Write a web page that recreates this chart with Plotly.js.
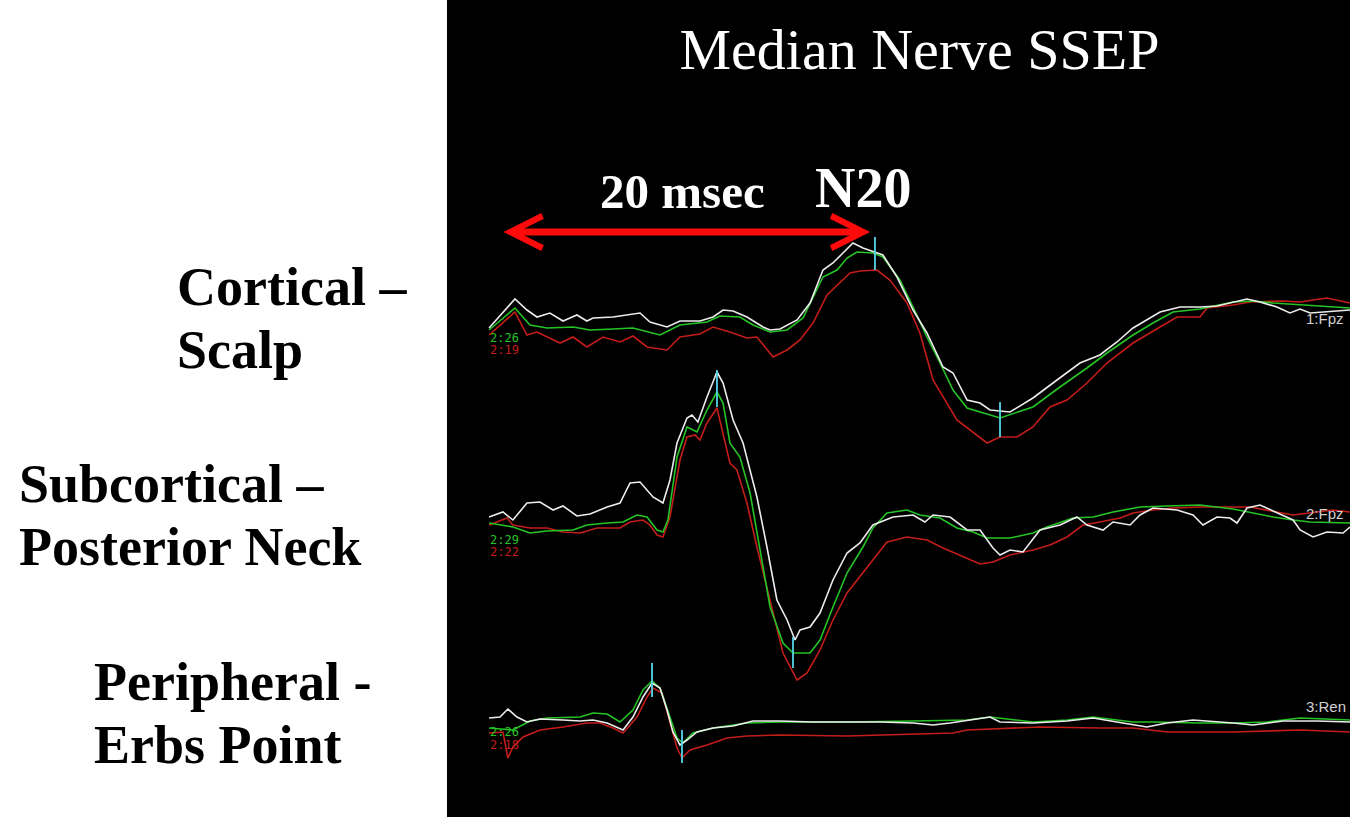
<!DOCTYPE html>
<html>
<head>
<meta charset="utf-8">
<script src="https://cdn.plot.ly/plotly-3.0.1.min.js"></script>
<style>html,body{margin:0;padding:0;background:#fff;}#chart{width:1350px;height:817px;}</style>
</head>
<body>
<div id="chart"></div>
<script>
// ---- Cortical (scalp) channel: latency (ms) and amplitude (arb. units) ----
const cortWhiteT = [-0.70,0.70,1.35,1.89,2.59,3.30,4.05,4.59,4.92,6.00,7.46,8.00,8.92,9.62,10.70,11.41,11.95,12.49,13.24,14.11,14.49,15.03,15.95,16.65,17.35,17.89,18.43,18.97,19.51,20.16,20.59,21.35,22.22,22.97,23.84,24.38,25.14,25.84,26.38,27.46,28.70,30.00,31.24,32.32,33.24,34.11,35.57,36.65,37.73,38.65,39.51,40.27,40.97,41.89,42.59,43.14,43.68,45.84];
const cortWhiteV = [0.2,3.1,2.0,1.3,1.7,0.9,1.5,0.9,1.2,1.3,1.7,0.8,0.3,0.9,0.9,1.3,2.0,1.9,1.3,0.3,0.0,0.1,1.0,2.7,6.0,6.7,7.7,8.7,8.2,7.8,7.5,5.3,2.0,-0.3,-3.7,-4.3,-7.0,-7.3,-8.0,-8.2,-6.8,-5.0,-3.3,-2.5,-1.2,0.2,1.8,2.3,2.3,2.4,2.8,3.1,2.8,2.3,1.7,2.1,1.7,2.0];
const cortGreenT = [-0.70,0.70,1.51,2.43,3.84,4.76,6.00,7.08,8.54,9.62,11.08,11.78,12.86,13.57,14.49,15.41,16.27,16.81,17.35,18.11,18.65,19.19,20.05,20.59,21.51,22.22,22.97,23.68,24.38,25.14,26.92,28.70,30.16,31.62,32.70,34.11,35.19,36.27,37.73,39.51,40.59,41.68,43.14,45.84];
const cortGreenV = [0.0,2.2,0.5,0.2,0.3,0.0,0.1,0.2,-0.5,0.5,0.8,1.4,1.3,0.5,-0.2,0.0,1.2,3.3,5.3,6.0,7.2,7.8,7.7,7.3,5.0,2.3,-0.7,-3.3,-6.0,-7.8,-8.8,-7.7,-5.7,-3.8,-2.3,-0.5,0.7,1.8,2.1,2.8,2.9,2.7,2.5,2.2];
const cortRedT = [-0.70,0.70,1.35,1.89,3.14,3.84,4.59,5.46,6.38,7.08,7.84,8.92,9.62,10.70,11.41,12.32,13.24,13.78,14.65,15.41,16.11,16.81,17.57,18.27,18.81,19.35,20.27,20.97,21.89,22.59,23.30,24.59,25.30,26.22,26.92,27.84,28.70,29.62,30.54,31.62,32.70,34.11,35.57,36.49,37.73,38.11,39.51,40.43,42.22,43.14,44.59,45.84];
const cortRedV = [-0.5,1.8,-0.5,-0.2,-1.3,-0.7,-1.7,-0.7,-1.2,-0.6,-1.7,-2.0,-0.7,-0.4,0.3,-0.2,-0.8,-0.7,-2.7,-2.0,-1.0,0.7,3.5,4.7,5.7,5.9,6.0,5.0,2.7,-0.3,-5.0,-9.0,-10.0,-11.3,-10.7,-10.7,-9.7,-7.7,-7.0,-5.3,-3.3,-1.3,0.3,1.3,1.3,2.2,2.5,2.8,2.9,2.8,3.2,2.7];

// ---- Subcortical (posterior neck) channel ----
const subWhiteT = [-0.70,0.05,0.59,1.35,2.05,2.76,3.30,4.05,4.76,5.68,6.38,6.92,7.46,8.16,8.70,9.08,9.46,10.00,10.27,10.59,11.08,11.62,11.95,12.49,13.03,13.78,14.32,14.86,15.41,15.84,16.11,16.65,17.19,17.89,18.65,19.35,20.05,21.14,22.22,22.86,23.30,24.22,25.14,25.84,26.54,26.92,27.46,28.16,29.08,30.16,31.08,31.62,32.49,33.03,33.95,34.49,35.19,36.49,37.35,37.89,38.65,39.35,39.73,40.27,40.97,41.89,42.76,43.14,43.84,44.59,45.46,45.84];
const subWhiteV = [0.3,0.8,0.0,1.7,1.8,1.0,1.4,0.4,0.6,1.3,1.7,3.7,3.8,2.3,1.7,4.0,7.7,10.2,10.5,9.8,12.3,14.8,13.7,10.0,7.7,2.3,-2.7,-8.0,-10.0,-12.0,-11.0,-10.7,-9.3,-6.0,-3.3,-2.3,-0.5,0.3,0.5,-0.2,0.5,0.3,-1.0,-1.0,-2.8,-3.5,-3.0,-3.2,-1.0,-0.5,0.3,-0.5,-1.0,-0.2,-0.5,0.5,1.2,1.0,0.5,-0.5,0.3,0.2,-0.3,1.2,1.5,0.7,0.0,-1.0,-1.7,-1.2,-1.3,-0.7];
const subGreenT = [-0.70,0.59,1.51,2.43,3.84,4.59,5.68,6.54,7.30,7.84,8.38,8.70,8.97,9.46,10.00,10.54,11.08,11.62,11.95,12.32,12.86,13.41,14.11,14.49,15.19,15.73,16.65,17.19,17.89,18.65,19.51,20.05,20.81,21.89,22.59,23.68,24.59,25.46,26.22,27.46,28.70,29.46,30.86,31.95,33.03,34.49,35.95,37.73,39.51,40.59,41.68,42.76,43.68,45.84];
const subGreenV = [-0.3,-0.7,-1.3,-1.1,-1.0,-0.5,-0.3,-0.2,0.5,0.3,-1.0,-1.2,0.0,6.3,9.3,8.8,11.0,12.8,11.7,7.7,6.3,2.7,-4.7,-8.7,-12.3,-13.3,-13.3,-12.0,-8.7,-5.3,-2.7,-0.8,0.7,1.0,0.5,0.2,-0.8,-1.2,-1.8,-1.8,-1.3,-0.7,0.2,0.3,0.8,1.3,1.4,1.5,1.1,0.7,0.3,0.0,-0.2,-0.3];
const subRedT = [-0.70,0.27,0.59,1.51,2.43,3.30,4.22,5.14,6.38,6.92,7.62,8.00,8.38,8.70,9.08,9.62,10.00,10.43,10.70,11.08,11.62,11.95,12.32,12.70,13.24,13.78,14.32,14.65,15.19,15.95,16.49,17.19,17.89,18.65,19.73,20.43,20.81,21.89,22.97,23.84,24.76,25.84,26.54,27.46,28.70,29.62,30.54,31.41,32.32,33.41,34.11,35.19,36.27,37.73,40.43,41.35,42.76,44.05,44.92,45.84];
const subRedV = [-0.5,0.2,-0.5,-0.8,-0.8,-1.2,-1.3,-0.8,-0.8,-0.2,0.0,-0.5,-1.5,-1.7,0.3,6.0,8.3,8.5,8.0,9.7,11.2,8.7,5.7,5.0,1.7,-2.7,-6.7,-9.3,-13.3,-16.0,-15.3,-13.0,-10.0,-7.3,-4.7,-3.0,-2.2,-1.7,-2.0,-2.8,-3.5,-4.4,-4.2,-3.5,-3.0,-2.5,-1.7,-0.5,-0.2,0.2,0.7,1.0,1.2,1.3,1.3,1.0,0.5,0.8,1.0,0.8];

// ---- Peripheral (Erb's point) channel ----
const perWhiteT = [-0.70,-0.11,0.32,0.81,1.35,2.05,3.30,4.22,4.92,5.68,6.54,7.08,7.62,8.11,8.54,8.92,9.24,9.62,10.00,10.54,11.41,12.49,13.57,15.03,16.81,18.65,20.43,22.22,23.30,24.22,26.38,26.92,28.70,30.54,31.95,33.24,34.86,35.95,37.35,39.51,40.59,42.22,44.05,45.84];
const perWhiteV = [0.4,0.5,1.3,0.5,0.0,0.3,0.2,0.1,0.2,-0.1,-0.8,0.5,2.5,3.9,3.4,1.2,-1.0,-2.3,-1.8,-1.0,-0.6,-0.4,0.1,0.1,0.0,0.0,0.0,-0.1,-0.3,-0.1,0.5,0.0,-0.1,0.1,0.4,0.0,-0.5,-0.1,0.2,-0.1,-0.3,0.1,0.1,0.0];
const perGreenT = [-0.70,0.59,1.51,2.43,4.22,4.92,5.68,6.38,7.08,7.62,8.11,8.54,9.08,9.46,9.78,10.32,11.41,13.24,15.03,18.65,22.22,25.14,26.38,28.70,30.54,31.95,34.11,35.19,37.73,39.51,41.35,43.14,45.84];
const perGreenV = [-0.6,-0.8,0.1,0.4,0.5,0.9,0.8,0.0,1.2,3.2,4.1,3.4,0.5,-1.6,-2.1,-1.1,-0.6,-0.1,0.0,0.0,0.1,0.2,0.5,0.0,0.2,0.5,0.0,0.0,-0.1,-0.1,0.0,0.4,0.2];
const perRedT = [-0.70,0.05,0.32,0.59,1.14,2.05,3.30,4.59,5.30,6.00,6.54,7.30,7.84,8.16,8.65,9.08,9.46,9.73,10.16,11.08,12.16,13.24,15.03,18.65,22.22,24.38,25.14,29.08,32.32,34.11,35.95,39.51,43.14,45.84];
const perRedV = [-1.1,-1.0,-3.6,-2.5,-1.5,-0.8,-0.5,-0.1,-0.1,-0.6,-1.1,0.5,2.5,3.4,2.9,-0.1,-2.6,-3.6,-2.8,-2.3,-1.6,-1.4,-1.3,-1.4,-1.2,-1.1,-0.8,-0.5,-0.6,-0.6,-1.0,-1.0,-0.8,-1.0];

// ---- Peak cursors (cyan ticks) ----
const cursorAxis    = ['y','y','y2','y2','y3','y3'];
const cursorLatency = [20.16, 26.92, 11.62, 15.73, 8.11, 9.73];
const cursorTop     = [9.3, -7.2, 15.0, -11.7, 5.9, -0.8];
const cursorBottom  = [6.0, -10.7, 11.3, -14.8, 2.5, -4.1];

// ---- Text ----
const channelNames  = ['1:Fpz', '2:Fpz', '3:Ren'];
const sideLabels    = [['Cortical –', 'Scalp'], ['Subcortical –', 'Posterior Neck'], ['Peripheral -', 'Erbs Point']];
const intervalStart = 0.0, intervalEnd = 19.9, intervalLabel = '20 msec', peakLabel = 'N20';

const WHITE = '#ececec', GREEN = '#25c425', RED = '#c31d1a', CYAN = '#55d5e6';
const LW = 1.6;

function tr(t, v, color, yaxis) {
  return {x: t, y: v, type: 'scatter', mode: 'lines', yaxis: yaxis,
          line: {color: color, width: LW, shape: 'linear'}, hoverinfo: 'skip'};
}

const data = [
  tr(cortRedT, cortRedV, RED, 'y'), tr(cortGreenT, cortGreenV, GREEN, 'y'), tr(cortWhiteT, cortWhiteV, WHITE, 'y'),
  tr(subRedT, subRedV, RED, 'y2'), tr(subGreenT, subGreenV, GREEN, 'y2'), tr(subWhiteT, subWhiteV, WHITE, 'y2'),
  tr(perRedT, perRedV, RED, 'y3'), tr(perGreenT, perGreenV, GREEN, 'y3'), tr(perWhiteT, perWhiteV, WHITE, 'y3')
];
for (let i = 0; i < cursorLatency.length; i++) {
  data.push({x: [cursorLatency[i], cursorLatency[i]], y: [cursorTop[i], cursorBottom[i]],
             type: 'scatter', mode: 'lines', yaxis: cursorAxis[i],
             line: {color: CYAN, width: 1.8}, hoverinfo: 'skip'});
}

const hidden = {showgrid: false, zeroline: false, showticklabels: false, ticks: '', showline: false, fixedrange: true};
const SERIF = 'Liberation Serif, Times New Roman, serif';

const annotations = [];
// Side labels (left, white area)
const sideX = [-0.3012, -0.4762, -0.3931];
const sideY = [[0.6487, 0.5716], [0.4076, 0.3305], [0.1652, 0.0881]];
sideLabels.forEach((pair, i) => pair.forEach((txt, j) => {
  annotations.push({text: txt, xref: 'paper', yref: 'paper', x: sideX[i], y: sideY[i][j],
    xanchor: 'left', yanchor: 'middle', showarrow: false,
    font: {family: SERIF, size: 54, color: '#000', weight: 'bold'}});
}));
// Double arrow for 20 msec interval
annotations.push({x: intervalEnd, y: 9.8, xref: 'x', yref: 'y', ax: intervalStart, ay: 9.8, axref: 'x', ayref: 'y',
  text: '', showarrow: true, arrowside: 'end+start', arrowhead: 5, startarrowhead: 5,
  arrowsize: 0.9, startarrowsize: 0.9, arrowwidth: 7, arrowcolor: '#ff0a0a'});
annotations.push({text: intervalLabel, x: 9.76, y: 13.9, xref: 'x', yref: 'y', showarrow: false,
  xanchor: 'center', yanchor: 'middle', font: {family: SERIF, size: 49, color: '#fff', weight: 'bold'}});
annotations.push({text: peakLabel, x: 19.49, y: 14.2, xref: 'x', yref: 'y', showarrow: false,
  xanchor: 'center', yanchor: 'middle', font: {family: SERIF, size: 56, color: '#fff', weight: 'bold'}});
// Channel names on the right
const nameY = [1.2, 0.7, 1.6], nameAx = ['y', 'y2', 'y3'];
channelNames.forEach((n, i) => annotations.push({text: n, x: 43.35, y: nameY[i], xref: 'x', yref: nameAx[i],
  xanchor: 'left', yanchor: 'middle', showarrow: false, font: {family: 'Liberation Sans, Arial, sans-serif', size: 15, color: '#d0d0d0'}}));
// Small gain labels at trace start
const gainText = [['2:26', '2:19'], ['2:29', '2:22'], ['2:26', '2:18']];
const gainY = [[-0.8, -2.0], [-2.0, -3.2], [-1.0, -2.3]];
gainText.forEach((pair, i) => pair.forEach((txt, j) => annotations.push({text: txt, x: -0.75, y: gainY[i][j],
  xref: 'x', yref: nameAx[i], xanchor: 'left', yanchor: 'middle', showarrow: false,
  font: {family: 'DejaVu Sans Mono, monospace', size: 12, color: j === 0 ? GREEN : RED}})));

const layout = {
  width: 1350, height: 817,
  margin: {l: 447, r: 0, t: 0, b: 0, pad: 0},
  paper_bgcolor: '#ffffff', plot_bgcolor: '#000000',
  showlegend: false,
  title: {text: 'Median Nerve SSEP', x: 0.6811, xref: 'container', y: 0.94, yref: 'container',
          xanchor: 'center', yanchor: 'middle', font: {family: SERIF, size: 58, color: '#ffffff'}},
  xaxis: Object.assign({range: [-2.973, 45.838]}, hidden),
  yaxis: Object.assign({range: [-48.7, 33]}, hidden),
  yaxis2: Object.assign({range: [-29.7, 52], overlaying: 'y'}, hidden),
  yaxis3: Object.assign({range: [-9.5, 72.2], overlaying: 'y'}, hidden),
  annotations: annotations
};

Plotly.newPlot('chart', data, layout, {displayModeBar: false, staticPlot: true});
</script>
</body>
</html>
